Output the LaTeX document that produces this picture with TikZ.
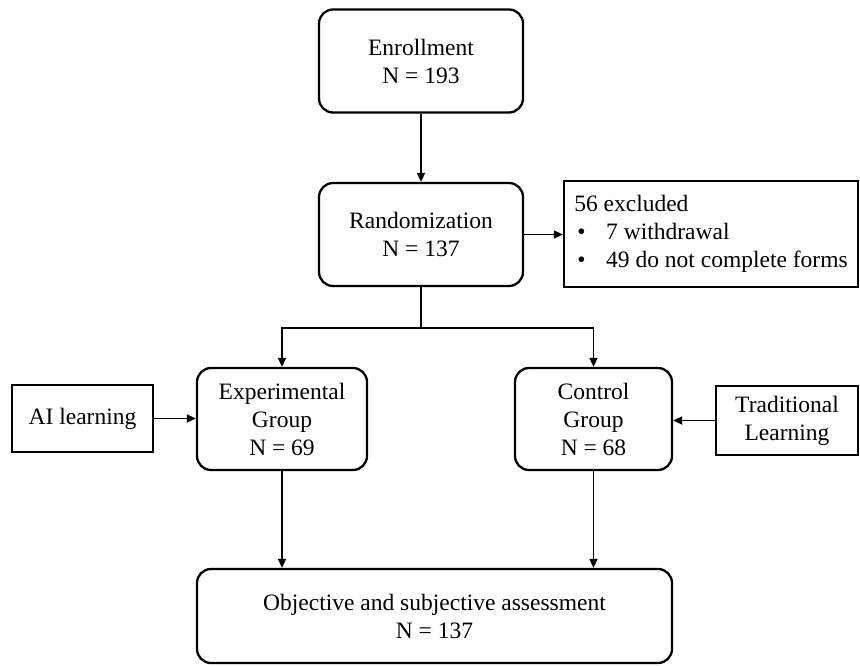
\documentclass[tikz,border=0pt]{standalone}
\usepackage{fontspec}
\setmainfont{Liberation Serif}
\usetikzlibrary{arrows.meta}
\begin{document}
\begin{tikzpicture}[x=1pt,y=-1pt,
  every node/.style={font=\fontsize{23.5}{28}\selectfont, align=center, inner sep=0pt},
  rbox/.style={draw, line width=2.3pt, rounded corners=14pt},
  sbox/.style={draw, line width=2.3pt},
  conn/.style={line width=1.7pt},
  arr/.style={conn, -{Triangle[length=9pt,width=8pt]}}]
\useasboundingbox (0,0) rectangle (860,665);
\node[rbox, minimum width=204pt, minimum height=103pt] (enr) at (421,61) {Enrollment\\N = 193};
\node[rbox, minimum width=204pt, minimum height=103pt] (rand) at (421,234.5) {Randomization\\N = 137};
\node[sbox, minimum width=294pt, minimum height=106pt, align=left] (exc) at (711,234)
  {56 excluded\\\makebox[32pt][l]{\hspace{3pt}\textbullet}7 withdrawal\\\makebox[32pt][l]{\hspace{3pt}\textbullet}49 do not complete forms};
\node[rbox, minimum width=170pt, minimum height=102pt] (exp) at (282,419) {Experimental\\Group\\N = 69};
\node[rbox, minimum width=157pt, minimum height=102pt] (ctl) at (593.5,419) {Control\\Group\\N = 68};
\node[sbox, minimum width=141pt, minimum height=67pt] (ai) at (82.5,418.5) {AI learning};
\node[sbox, minimum width=142pt, minimum height=69pt] (trad) at (787,420.5) {Traditional\\Learning};
\node[rbox, minimum width=475pt, minimum height=94pt] (obj) at (434.5,616) {Objective and subjective assessment\\N = 137};
\coordinate (j) at (421,328);
\draw[arr] (enr) -- (rand);
\draw[arr] (rand.east) -- (rand.east -| exc.west);
\draw[conn] (rand.south) -- (j);
\draw[arr] (j) -| (exp.north);
\draw[arr] (j) -| (ctl.north);
\draw[arr] (ai.east) -- (ai.east -| exp.west);
\draw[arr] (trad.west) -- (trad.west -| ctl.east);
\draw[arr] (exp.south) -- (exp.south |- obj.north);
\draw[arr] (ctl.south) -- (ctl.south |- obj.north);
\end{tikzpicture}
\end{document}
